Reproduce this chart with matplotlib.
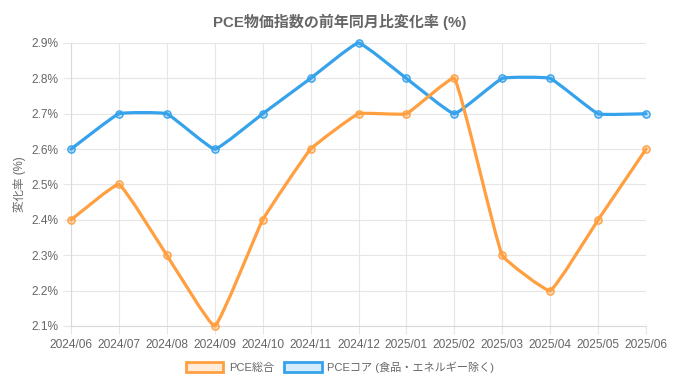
import numpy as np
import matplotlib
matplotlib.use("Agg")
import matplotlib.pyplot as plt
from matplotlib.path import Path
from matplotlib.patches import PathPatch, Patch

plt.rcParams['font.family'] = ['Liberation Sans', 'Noto Sans CJK JP', 'DejaVu Sans']

# =========================
# DATA
# =========================
months = ["2024/06", "2024/07", "2024/08", "2024/09", "2024/10", "2024/11", "2024/12",
          "2025/01", "2025/02", "2025/03", "2025/04", "2025/05", "2025/06"]
pce_total = [2.4, 2.5, 2.3, 2.1, 2.4, 2.6, 2.7, 2.7, 2.8, 2.3, 2.2, 2.4, 2.6]
pce_core = [2.6, 2.7, 2.7, 2.6, 2.7, 2.8, 2.9, 2.8, 2.7, 2.8, 2.8, 2.7, 2.7]
y_ticks = [2.1, 2.2, 2.3, 2.4, 2.5, 2.6, 2.7, 2.8, 2.9]

title = "PCE物価指数の前年同月比変化率 (%)"
y_label = "変化率 (%)"
label_total = "PCE総合"
label_core = "PCEコア (食品・エネルギー除く)"

orange = "#FF9F40"
blue = "#36A2EB"
text_col = "#666666"
grid_col = "#e6e6e6"

# =========================
# FIGURE
# =========================
fig = plt.figure(figsize=(6.8, 3.8), dpi=100)
ax = fig.add_axes([71 / 680, 1 - 326 / 380, 575 / 680, 283 / 380])
ax.set_xlim(0, len(months) - 1)
ax.set_ylim(2.1, 2.9)


def smooth_line(ax, xs, ys, color, tension=0.1, z=3):
    # Chart.js style spline, control points computed in pixel space
    pts = ax.transData.transform(np.column_stack([xs, ys]))
    n = len(pts)
    verts = [pts[0]]
    codes = [Path.MOVETO]
    ctrl_prev = [None] * n
    ctrl_next = [None] * n
    for i in range(n):
        prev = pts[max(i - 1, 0)]
        cur = pts[i]
        nxt = pts[min(i + 1, n - 1)]
        d01 = np.hypot(*(cur - prev))
        d12 = np.hypot(*(nxt - cur))
        tot = d01 + d12
        s01 = d01 / tot if tot else 0
        s12 = d12 / tot if tot else 0
        ctrl_prev[i] = cur - tension * s01 * (nxt - prev)
        ctrl_next[i] = cur + tension * s12 * (nxt - prev)
    for i in range(1, n):
        verts += [ctrl_next[i - 1], ctrl_prev[i], pts[i]]
        codes += [Path.CURVE4] * 3
    inv = ax.transData.inverted()
    path = Path(inv.transform(np.array(verts)), codes)
    ax.add_patch(PathPatch(path, facecolor="none", edgecolor=color, lw=2.3,
                           zorder=z, capstyle="round", joinstyle="round",
                           clip_on=False))
    ax.plot(xs, ys, linestyle="none", marker="o", markersize=5.2,
            markeredgewidth=1.0, markeredgecolor=color,
            markerfacecolor=matplotlib.colors.to_rgba(color, 0.35),
            zorder=z + 0.1, clip_on=False)


x = np.arange(len(months))
smooth_line(ax, x, pce_core, blue, z=3)
smooth_line(ax, x, pce_total, orange, z=4)

ax.set_xticks(x)
ax.set_xticklabels(months)
ax.set_yticks(y_ticks)
ax.set_yticklabels([f"{v:.1f}%" for v in y_ticks])
ax.grid(True, color=grid_col, lw=0.8, zorder=0)
ax.set_axisbelow(True)
for side in ["top", "right"]:
    ax.spines[side].set_visible(False)
for side in ["left", "bottom"]:
    ax.spines[side].set_color("#d9d9d9")
    ax.spines[side].set_linewidth(0.8)
ax.tick_params(axis="both", colors=grid_col, length=6, width=0.8,
               labelcolor=text_col, labelsize=8.6, pad=3)

ax.set_ylabel(y_label, color=text_col, fontsize=8.3, labelpad=4)
fig.text(0.5, 1 - 22 / 380, title, ha="center", va="center",
         fontsize=10.8, fontweight="bold", color=text_col)

handles = [
    Patch(facecolor=matplotlib.colors.to_rgba(orange, 0.2), edgecolor=orange, lw=2.0),
    Patch(facecolor=matplotlib.colors.to_rgba(blue, 0.2), edgecolor=blue, lw=2.0),
]
leg = fig.legend(handles, [label_total, label_core], loc="center",
                 bbox_to_anchor=(0.5, 1 - 367 / 380), ncol=2, frameon=False,
                 fontsize=8.0, handlelength=3.4, handleheight=1.0,
                 handletextpad=0.5, columnspacing=0.9)
for t in leg.get_texts():
    t.set_color(text_col)

fig.savefig("out.png", dpi=100)
